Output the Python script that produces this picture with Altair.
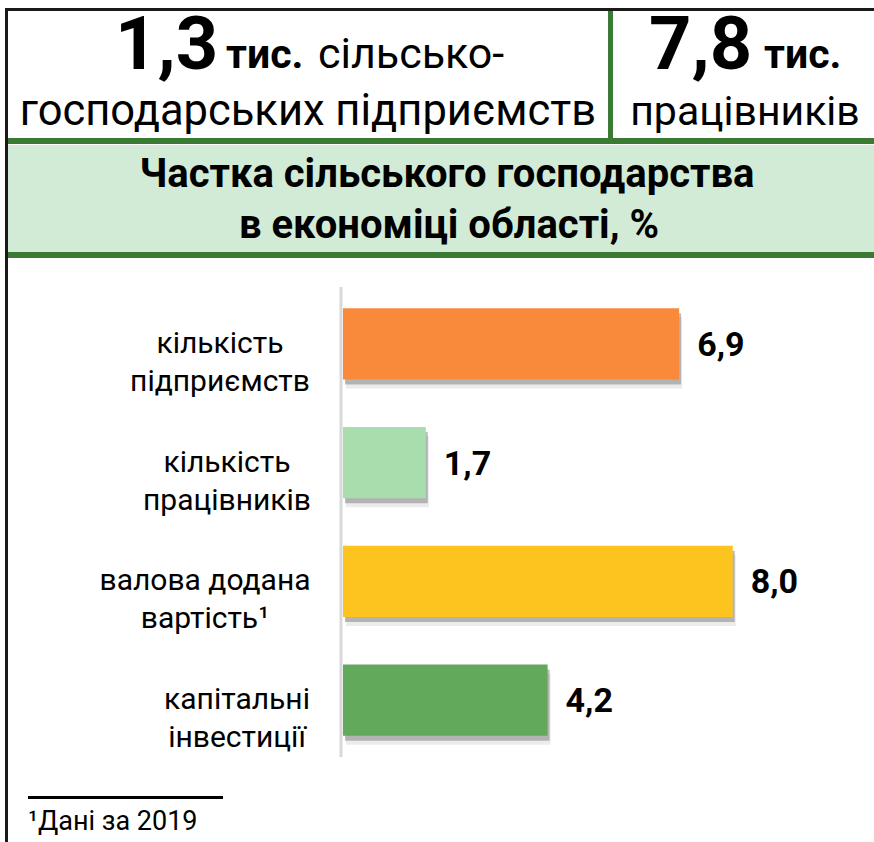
import altair as alt
import pandas as pd

# ---- data ----
categories = ["кількість\nпідприємств", "кількість\nпрацівників",
              "валова додана\nвартість¹", "капітальні\nінвестиції"]
values = [6.9, 1.7, 8.0, 4.2]
value_labels = ["6,9", "1,7", "8,0", "4,2"]
colors = ["#F98A3C", "#A8DEAE", "#FDC41F", "#63A95C"]

head_num_left = "1,3"
head_num_right = "7,8"
head_unit = "тис."
head_left_line1 = "сільсько-"
head_left_line2 = "господарських підприємств"
head_right_line2 = "працівників"
title_lines = ["Частка сільського господарства", "в економіці області, %"]
footnote = "¹Дані за 2019"

df = pd.DataFrame({"cat": categories, "val": values, "lab": value_labels, "col": colors})

# ---- layout ----
FONT = "Roboto"
X0, Y0, W, H = 343, 287, 531, 470
LABEL_CENTER_X = [220, 227, 205, 237]   # centre of each two-line category label block


def rx(x):
    return x - X0


def ry(y):
    return y - Y0


base = alt.Chart(df)
yenc = alt.Y("cat:N", sort=None, axis=None,
             scale=alt.Scale(paddingInner=0.4, paddingOuter=0.18))
xenc = alt.X("val:Q", axis=None, scale=alt.Scale(domain=[0, 10.9], nice=False))

shadow2 = base.mark_bar(color="#808080", opacity=0.15, yOffset=9, xOffset=3).encode(x=xenc, y=yenc)
shadow1 = base.mark_bar(color="#6e6e6e", opacity=0.45, yOffset=5, xOffset=2).encode(x=xenc, y=yenc)
bars = base.mark_bar().encode(x=xenc, y=yenc,
                              color=alt.Color("col:N", scale=None, legend=None))
vals = base.mark_text(align="left", baseline="middle", dx=18, dy=2, font=FONT,
                      fontSize=34, fontWeight="bold", color="#000000").encode(
    x=xenc, y=yenc, text="lab:N")

label_layers = [
    base.transform_filter(alt.datum.cat == c).mark_text(
        align="center", baseline="middle", lineBreak="\n", lineHeight=38,
        font=FONT, fontSize=30, color="#000000").encode(
        x=alt.value(rx(cx)), y=yenc, text="cat:N")
    for c, cx in zip(categories, LABEL_CENTER_X)
]

deco = alt.Chart(alt.Data(values=[{}]))


def rect(x1, x2, y1, y2, color):
    return deco.mark_rect(color=color).encode(
        x=alt.value(rx(x1)), x2=alt.value(rx(x2)),
        y=alt.value(ry(y1)), y2=alt.value(ry(y2)))


def txt(s, x, y, size, weight="normal", align="left"):
    return deco.mark_text(align=align, baseline="alphabetic", font=FONT, fontSize=size,
                          fontWeight=weight, color="#000000").encode(
        x=alt.value(rx(x)), y=alt.value(ry(y)), text=alt.value(s))


DG = "#3B7A33"
layers = [
    rect(5, 874, 8, 11, "#1a1a1a"),          # top border
    rect(5, 8, 8, 842, "#1a1a1a"),           # left border
    rect(608, 613, 11, 139, DG),             # divider
    rect(8, 874, 138, 144, DG),              # band top line
    rect(8, 874, 145, 252, "#D1EBD6"),       # band
    rect(8, 874, 252, 258, DG),              # band bottom line
    txt(head_num_left, 115, 69, 74, "bold"),
    txt(head_unit, 226, 68, 41, "bold"),
    txt(head_left_line1, 318, 68, 43),
    txt(head_left_line2, 308, 125, 43.5, align="center"),
    txt(head_num_right, 649, 69, 74, "bold"),
    txt(head_unit, 764, 68, 41, "bold"),
    txt(head_right_line2, 745, 125, 41, align="center"),
    txt(title_lines[0], 447, 187, 40, "bold", align="center"),
    txt(title_lines[1], 449, 238, 40, "bold", align="center"),
    deco.mark_rule(color="#D9D9D9", strokeWidth=3).encode(
        x=alt.value(-2), y=alt.value(0), y2=alt.value(H)),
    shadow2, shadow1, bars, vals, *label_layers,
    rect(28, 223, 796, 799, "#000000"),
    txt(footnote, 28, 830, 27),
]

chart = alt.layer(*layers).properties(
    width=W, height=H,
    autosize=alt.AutoSizeParams(type="none"),
    padding={"left": X0, "top": Y0, "right": 874 - X0 - W, "bottom": 842 - Y0 - H},
    background="#ffffff",
).configure_view(stroke=None)

chart.save("out.html", embed_options={"renderer": "svg", "actions": False})
